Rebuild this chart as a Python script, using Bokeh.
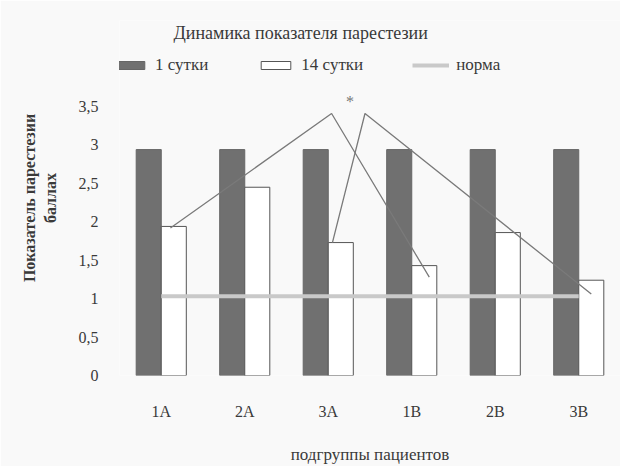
from bokeh.plotting import figure
from bokeh.models import Range1d, FixedTicker, Legend, LegendItem, Label, ColumnDataSource
from bokeh.embed import file_html
from bokeh.resources import INLINE

# ---- data ----
categories = ["1А", "2А", "3А", "1В", "2В", "3В"]
day1 = [2.94, 2.94, 2.94, 2.94, 2.94, 2.94]
day14 = [1.94, 2.45, 1.73, 1.43, 1.86, 1.24]
norm_value = 1.03
y_ticks = [0, 0.5, 1, 1.5, 2, 2.5, 3, 3.5]
y_tick_labels = ["0", "0,5", "1", "1,5", "2", "2,5", "3", "3,5"]
# significance annotation lines (category index, value)
sig1_x = [0.11, 2.04, 3.21]
sig1_y = [1.92, 3.41, 1.28]
sig2_x = [2.05, 2.44, 5.15]
sig2_y = [1.73, 3.41, 1.06]
star_pos = (2.26, 3.56)

title_text = "Динамика показателя парестезии"
x_title = "подгруппы пациентов"
y_title = "Показатель парестезии\nбаллах"

FONT = "Liberation Serif"
TXT = "#3a3a3a"
BG = "#f9f9f9"

idx = list(range(len(categories)))
src = ColumnDataSource(dict(
    x1=[i - 0.15 for i in idx],
    x2=[i + 0.15 for i in idx],
    d1=day1, d14=day14,
))

p = figure(width=620, height=466, output_backend="svg", toolbar_location=None,
           x_range=Range1d(-0.5, 5.5), y_range=Range1d(0, 4.62),
           min_border_left=119, min_border_right=0, min_border_top=20,
           min_border_bottom=88, background_fill_color=BG,
           border_fill_color=BG)
p.outline_line_color = None
p.grid.visible = False

r1 = p.vbar(x="x1", top="d1", width=0.3, source=src, fill_color="#707070",
            line_color="#666666", line_width=1)
r2 = p.vbar(x="x2", top="d14", width=0.3, source=src, fill_color="white",
            line_color="#555555", line_width=1)
rn = p.line([idx[0], idx[-1]], [norm_value, norm_value], line_color="#c9c9c9",
            line_width=4)

p.line(sig1_x, sig1_y, line_color="#7a7a7a", line_width=1.3)
p.line(sig2_x, sig2_y, line_color="#7a7a7a", line_width=1.3)
p.add_layout(Label(x=star_pos[0], y=star_pos[1], text="*", text_font=FONT,
                   text_font_size="16px", text_color="#777777",
                   text_align="center", text_baseline="middle"))

p.add_layout(Label(x=1.67, y=4.46, text=title_text, text_font=FONT,
                   text_font_size="18px", text_color=TXT,
                   text_align="center", text_baseline="middle"))

# axes
p.xaxis.ticker = FixedTicker(ticks=idx)
p.xaxis.major_label_overrides = {i: c for i, c in zip(idx, categories)}
p.yaxis.ticker = FixedTicker(ticks=y_ticks)
p.yaxis.major_label_overrides = {t: l for t, l in zip(y_ticks, y_tick_labels)}
for ax in (p.xaxis, p.yaxis):
    ax.axis_line_color = None
    ax.major_tick_line_color = None
    ax.minor_tick_line_color = None
    ax.major_label_text_font = FONT
    ax.major_label_text_font_size = "16px"
    ax.major_label_text_color = TXT
    ax.axis_label_text_font = FONT
    ax.axis_label_text_color = TXT
    ax.axis_label_text_font_style = "bold"
p.xaxis.major_label_standoff = 21
p.xaxis.axis_label = x_title
p.xaxis.axis_label_text_font_size = "17px"
p.xaxis.axis_label_text_font_style = "normal"
p.xaxis.axis_label_standoff = 22
p.yaxis.major_label_standoff = 15
p.yaxis.axis_label = y_title
p.yaxis.axis_label_text_font_size = "16px"
p.yaxis.axis_label_standoff = 17

legend = Legend(items=[LegendItem(label="1 сутки", renderers=[r1]),
                       LegendItem(label="14 сутки", renderers=[r2]),
                       LegendItem(label="норма", renderers=[rn])],
                orientation="horizontal", location=(-8, 300),
                glyph_width=37, glyph_height=10, label_standoff=7, spacing=49,
                padding=0, margin=0, border_line_alpha=0,
                background_fill_alpha=0, label_text_font=FONT,
                label_text_font_size="17px", label_text_color=TXT,
                label_height=16)
p.add_layout(legend)

open("out.html", "w").write(file_html(p, INLINE))
